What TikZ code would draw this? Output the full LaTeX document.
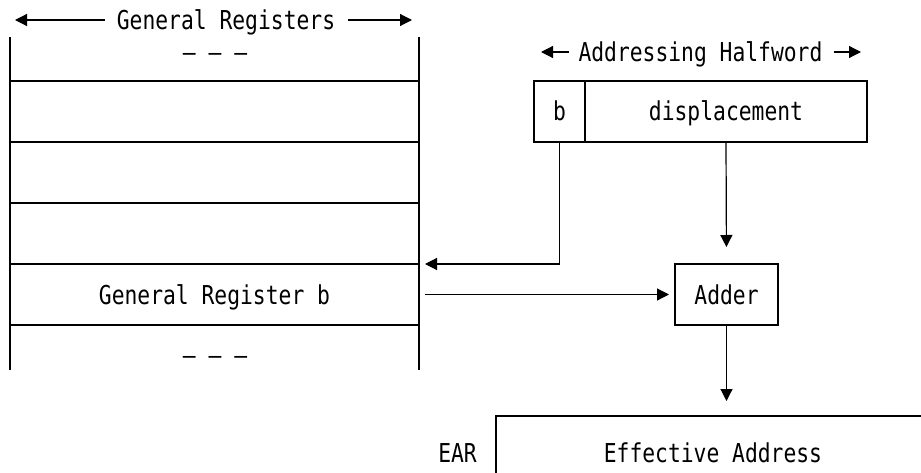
\documentclass[tikz,border=0pt]{standalone}
\usepackage{fontspec}
\usetikzlibrary{positioning,calc,arrows.meta}
\newfontfamily\regfont[FakeStretch=0.82]{DejaVu Sans Mono}

\begin{document}
\begin{tikzpicture}[x=1pt, y=-1pt,
			font=\regfont\fontsize{26}{30}\selectfont,
			reg/.style={rectangle, draw, line width=1.2pt, outer sep=0pt, minimum width=409pt, minimum height=61pt, inner sep=0pt, text height=19pt, text depth=0pt},
			field/.style={rectangle, draw, line width=1.2pt, outer sep=0pt, minimum height=61pt, inner sep=0pt, text height=19pt, text depth=0pt},
			txt/.style={rectangle, inner sep=0pt, text height=19pt, text depth=0pt},
			arr/.style={line width=1.2pt, -{Triangle[length=12pt,width=12pt]}}]
			\useasboundingbox (0,0) rectangle (921,473);
			\clip (0,0) rectangle (921,473);
			% register stack
			\node[reg] (reg1) at (214.5,111.5) {};
			\node[reg] (reg2) [below=0pt of reg1] {};
			\node[reg] (reg3) [below=0pt of reg2] {};
			\node[reg] (regb) [below=0pt of reg3] {General Register b};
			\node[txt] (dots1) at (215,52) {— — —};
			\node[txt] (dots2) at (215,355) {— — —};
			\node[txt] (title1) at (226,20) {General Registers};
			\draw[line width=1.2pt] (reg1.north west) -- ++(0,-44) (reg1.north east) -- ++(0,-44);
			\draw[line width=1.2pt] (regb.south west) -- ++(0,45) (regb.south east) -- ++(0,45);
			% halfword, adder, EAR
			\node[field, minimum width=51pt] (bfield) at (559.5,111.5) {b};
			\node[field, minimum width=282pt] (disp) [right=0pt of bfield] {displacement};
			\node[txt] (title2) at (700.5,52) {Addressing Halfword};
			\node[field, minimum width=103pt] (adder) at (726.5,294.5) {Adder};
			\node[field, minimum width=434pt, minimum height=74pt] (eff) at (713,453) {Effective Address};
			\node[txt] (ear) [left=19pt of eff] {EAR};
			\begin{scope}[arr]
				\draw[shorten <=12pt, shorten >=5pt] (title1.west) -- (title1.west -| reg1.west);
				\draw[shorten <=13pt, shorten >=7pt] (title1.east) -- (title1.east -| reg1.east);
				\draw[shorten <=9pt, shorten >=7pt] (title2.west) -- (title2.west -| bfield.west);
				\draw[shorten <=11pt, shorten >=6pt] (title2.east) -- (title2.east -| disp.east);
				\draw[shorten >=6pt] (bfield.south) |- (regb.north east);
				\draw[shorten <=6pt, shorten >=6pt] (regb.east) -- (adder.west);
				\draw[shorten >=17pt] (disp.south) -- (adder.north);
				\draw[shorten >=15pt] (adder.south) -- (eff.north -| adder.south);
			\end{scope}
		\end{tikzpicture}
\end{document}
